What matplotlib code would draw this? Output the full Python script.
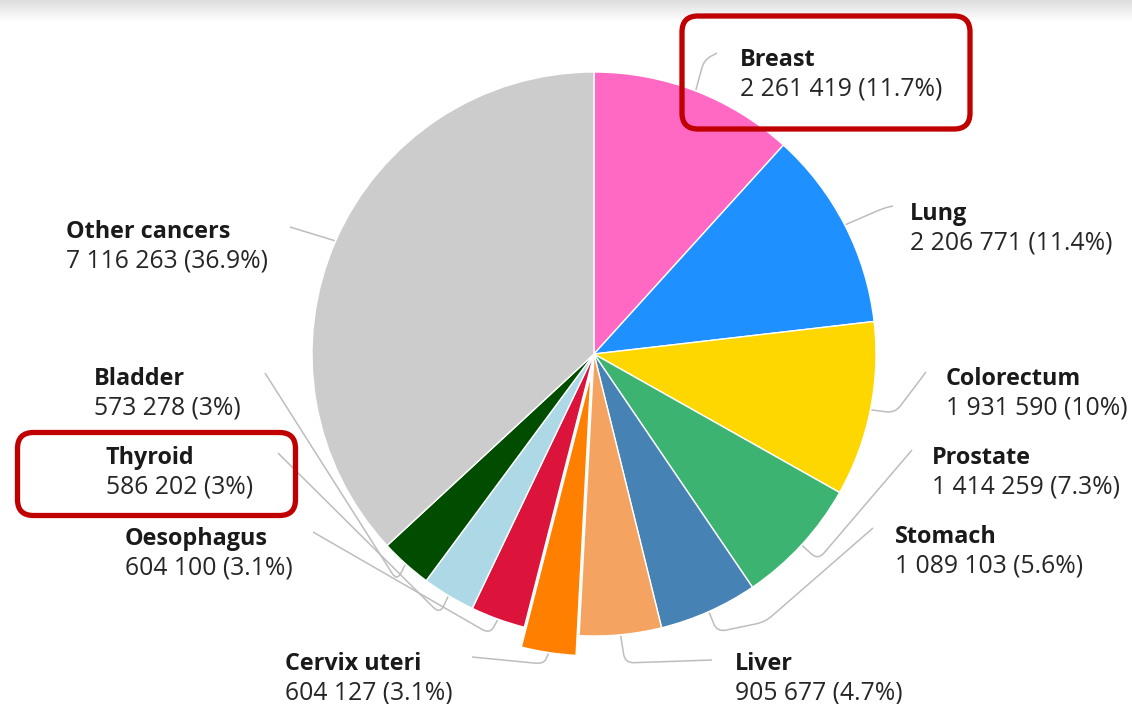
import numpy as np
import matplotlib
matplotlib.use("Agg")
import matplotlib.pyplot as plt
from matplotlib.patches import FancyBboxPatch
from matplotlib.path import Path
from matplotlib.patches import PathPatch

# cancer incidence, new cases
sites = ["Breast", "Lung", "Colorectum", "Prostate", "Stomach", "Liver",
         "Cervix uteri", "Oesophagus", "Thyroid", "Bladder", "Other cancers"]
cases = [2261419, 2206771, 1931590, 1414259, 1089103, 905677,
         604127, 604100, 586202, 573278, 7116263]
colors = ["#ff69c4", "#1e90ff", "#ffd700", "#3cb371", "#4682b4", "#f4a460",
          "#ff7f00", "#dc143c", "#add8e6", "#004d00", "#cccccc"]
highlight = ["Breast", "Thyroid"]

W, H = 1132, 704
cx, cy, R = 594, 354, 282
pop = "Cervix uteri"
pop_px = 20

# label text position (left x, title y) and leader line bends, in pixels
label_pos = {
    "Breast": (740, 60), "Lung": (910, 214), "Colorectum": (946, 379),
    "Prostate": (932, 458), "Stomach": (895, 537), "Liver": (735, 664),
    "Cervix uteri": (285, 664), "Oesophagus": (125, 539), "Thyroid": (106, 458),
    "Bladder": (94, 379), "Other cancers": (66, 232),
}
bends = {
    "Breast": [(704, 60), (717, 53)],
    "Lung": [(884, 208), (893, 206)],
    "Colorectum": [(895, 413), (926, 372)],
    "Prostate": [(818, 560), (912, 450)],
    "Stomach": [(717, 632), (765, 622), (873, 528)],
    "Liver": [(625, 663), (712, 660)],
    "Cervix uteri": [(544, 664), (472, 657)],
    "Oesophagus": [(490, 634), (313, 532)],
    "Thyroid": [(440, 614), (278, 453)],
    "Bladder": [(397, 581), (265, 373)],
    "Other cancers": [(290, 227)],
}


def fmt_num(v):
    return f"{v:,}".replace(",", " ")


def fmt_pct(p):
    s = f"{p:.1f}"
    if s.endswith(".0"):
        s = s[:-2]
    return s + "%"


def rounded_path(pts, rad=9):
    # polyline with softened corners
    verts = [pts[0]]
    codes = [Path.MOVETO]
    for i in range(1, len(pts) - 1):
        p = np.array(pts[i], float)
        a = np.array(pts[i - 1], float)
        b = np.array(pts[i + 1], float)
        da = a - p
        db = b - p
        ra = min(rad, np.linalg.norm(da) / 2)
        rb = min(rad, np.linalg.norm(db) / 2)
        pa = p + da / np.linalg.norm(da) * ra
        pb = p + db / np.linalg.norm(db) * rb
        verts += [tuple(pa), tuple(p), tuple(pb)]
        codes += [Path.LINETO, Path.CURVE3, Path.CURVE3]
    verts.append(pts[-1])
    codes.append(Path.LINETO)
    return Path(verts, codes)


plt.rcParams['font.family'] = ['Open Sans', 'DejaVu Sans']

fig = plt.figure(figsize=(W / 100, H / 100), dpi=100)
ax = fig.add_axes([0, 0, 1, 1])

total = sum(cases)
pcts = [100 * c / total for c in cases]
# pie's explode offset is in data units, here pixels
explode = [pop_px if s == pop else 0 for s in sites]

# y axis points down, so counterclock in data space runs clockwise on screen
ax.pie(cases, colors=colors, startangle=-90, counterclock=True,
       center=(cx, cy), radius=R, explode=explode,
       wedgeprops=dict(edgecolor="white", linewidth=1.0))

# faint shade along the top edge
shade = np.linspace(0.87, 1.0, 30).reshape(-1, 1)
ax.imshow(np.repeat(shade, 2, axis=1), cmap="gray", vmin=0, vmax=1,
          extent=(0, W, 22, 0), aspect="auto", zorder=0)
ax.set_xlim(0, W)
ax.set_ylim(H, 0)
ax.set_aspect("equal")
ax.axis("off")

cum = np.cumsum([0] + cases[:-1])
for i, s in enumerate(sites):
    mid = 360 * (cum[i] + cases[i] / 2) / total
    r = R + (pop_px if s == pop else 0) + 1
    t = np.radians(mid)
    edge = (cx + r * np.sin(t), cy - r * np.cos(t))
    path = rounded_path([edge] + bends[s])
    ax.add_patch(PathPatch(path, facecolor="none", edgecolor="#bdbdbd",
                           linewidth=1.1, zorder=3))

    x, y = label_pos[s]
    ax.text(x, y, s, fontsize=16.8, fontweight="bold", color="#1a1a1a",
            va="center", ha="left", zorder=4)
    ax.text(x, y + 29, f"{fmt_num(cases[i])} ({fmt_pct(pcts[i])})",
            fontsize=17.8, color="#262626", va="center", ha="left", zorder=4)

# red call-out frames
boxes = {"Breast": (682, 16, 288, 113), "Thyroid": (17.5, 432.5, 278, 83)}
for s in highlight:
    bx, by, bw, bh = boxes[s]
    ax.add_patch(FancyBboxPatch((bx, by), bw, bh,
                                boxstyle="round,pad=0,rounding_size=16",
                                facecolor="none", edgecolor="#c00000",
                                linewidth=3.8, zorder=5))

fig.savefig("out.png", dpi=100)
